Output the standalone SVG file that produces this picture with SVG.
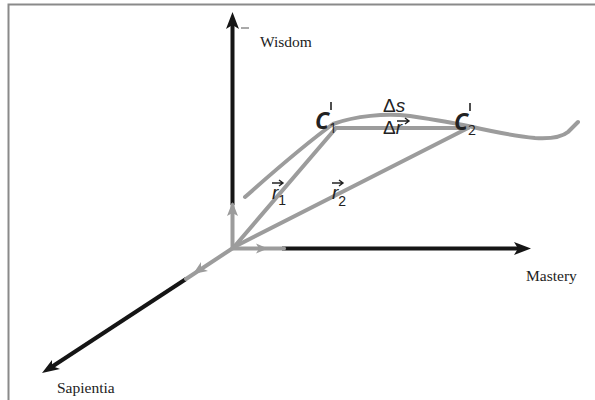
<svg xmlns="http://www.w3.org/2000/svg" width="595" height="400" viewBox="0 0 595 400">
<style>
.frame{stroke:#8a8a8a;stroke-width:2;fill:none}
.ax{stroke:#151515;stroke-width:4;fill:none;stroke-linecap:butt}
.gr{stroke:#9c9c9c;stroke-width:4;fill:none;stroke-linecap:round;stroke-linejoin:round}
.ahb{fill:#151515}
.ahg{fill:#9c9c9c}
.lbl{font-family:"Liberation Serif",serif;font-size:15.5px;fill:#222}
.sym{font-family:"Liberation Sans",Arial,sans-serif;font-size:19px;fill:#222}
.cc{font-family:"Open Sans","DejaVu Sans",sans-serif;font-size:23px;font-weight:bold;font-style:italic;fill:#222}
.sub{font-size:14px;font-style:normal;font-weight:normal}
.vec{stroke:#222;stroke-width:1.4;fill:none}
</style>
<rect width="595" height="400" fill="#fff"/>
<path class="frame" d="M8.5 400 V4.5 H595"/>

<g id="axes">
  <g id="wisdom-axis">
    <line class="ax" x1="232.5" y1="205" x2="232.5" y2="20"/>
    <polygon class="ahb" points="232.5,12 226,29 232.5,25 239,29"/>
    <line x1="241" y1="28" x2="249" y2="28" stroke="#555" stroke-width="1"/>
    <line class="gr" x1="232.5" y1="248" x2="232.5" y2="205"/>
    <polygon class="ahg" points="232.5,202 227,216 232.5,213 238,216"/>
  </g>
  <g id="mastery-axis">
    <line class="ax" x1="282" y1="248.5" x2="522" y2="248.5"/>
    <polygon class="ahb" points="531,248.5 514,242 518,248.5 514,255"/>
    <line class="gr" x1="233" y1="248.5" x2="284" y2="248.5"/>
    <polygon class="ahg" points="268,248.5 256,243.5 259,248.5 256,253.5"/>
  </g>
  <g id="sapientia-axis">
    <line class="ax" x1="186" y1="279" x2="50" y2="368"/>
    <polygon class="ahb" points="42,373 52,360 52,366 60,369"/>
    <line class="gr" x1="233" y1="248" x2="186" y2="279"/>
    <polygon class="ahg" points="193,274 201,262 201,268 208,271"/>
  </g>
</g>

<g id="connectors">
  <path id="curve" class="gr" d="M245 197 C270 175 300 148 333 124 C355 116 385 113 410 116 C430 119 450 122 468 126 C490 131 515 136 535 138 C552 139 562 137 568 132 L578 122"/>
  <line id="r1" class="gr" x1="234" y1="247" x2="336" y2="128"/>
  <line id="r2" class="gr" x1="234" y1="247" x2="468" y2="128"/>
  <line id="dr" class="gr" x1="336" y1="128" x2="468" y2="128"/>
</g>

<g id="labels">
  <text class="lbl" x="260" y="47">Wisdom</text>
  <text class="lbl" x="526" y="281">Mastery</text>
  <text class="lbl" x="57" y="393">Sapientia</text>
</g>

<g id="C1">
  <text class="cc" x="315" y="129">C<tspan class="sub" dy="4">1</tspan></text>
  <line x1="331" y1="102" x2="331" y2="110" stroke="#222" stroke-width="1.6"/>
</g>
<g id="C2">
  <text class="cc" x="454" y="130">C<tspan class="sub" dy="5">2</tspan></text>
  <line x1="470" y1="103" x2="470" y2="111" stroke="#222" stroke-width="1.6"/>
</g>
<g id="ds-label">
  <text class="sym" x="383" y="112">Δ<tspan font-style="italic">s</tspan></text>
</g>
<g id="dr-label">
  <text class="sym" x="383" y="134">Δ<tspan font-style="italic">r</tspan></text>
  <path class="vec" d="M397 121 H409 M405 118 L409 121 L405 124"/>
</g>
<g id="r1-label">
  <text class="sym" x="272" y="199" font-style="italic">r<tspan class="sub" dy="6">1</tspan></text>
  <path class="vec" d="M272 183 H283 M279 180 L283 183 L279 186"/>
</g>
<g id="r2-label">
  <text class="sym" x="332" y="199" font-style="italic">r<tspan class="sub" dy="7">2</tspan></text>
  <path class="vec" d="M332 183 H343 M339 180 L343 183 L339 186"/>
</g>
</svg>
